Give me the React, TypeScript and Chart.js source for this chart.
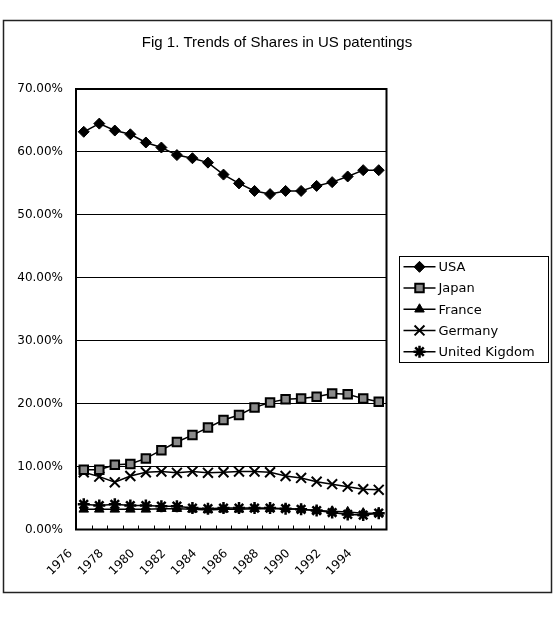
import React, { useEffect, useRef } from 'react';
import { Chart, registerables } from 'chart.js';
import { drawPoint } from 'chart.js/helpers';

Chart.register(...registerables);

const titleText = 'Fig 1. Trends of Shares in US patentings';
const years = ['1976', '1977', '1978', '1979', '1980', '1981', '1982', '1983', '1984', '1985',
  '1986', '1987', '1988', '1989', '1990', '1991', '1992', '1993', '1994', '1995'];
const usa = [63.2, 64.5, 63.4, 62.8, 61.5, 60.7, 59.5, 59.0, 58.3, 56.4,
  55.0, 53.8, 53.3, 53.8, 53.8, 54.6, 55.2, 56.1, 57.1, 57.1];
const japan = [9.5, 9.5, 10.3, 10.4, 11.3, 12.6, 13.9, 15.0, 16.2, 17.4,
  18.2, 19.4, 20.2, 20.7, 20.8, 21.1, 21.6, 21.5, 20.8, 20.3];
const france = [3.2, 3.2, 3.2, 3.2, 3.2, 3.3, 3.3, 3.2, 3.1, 3.2,
  3.2, 3.3, 3.3, 3.3, 3.2, 3.0, 2.9, 2.8, 2.6, 2.6];
const germany = [9.1, 8.4, 7.5, 8.5, 9.1, 9.2, 9.0, 9.2, 9.0, 9.1,
  9.2, 9.2, 9.1, 8.5, 8.2, 7.6, 7.2, 6.8, 6.4, 6.3];
const uk = [4.0, 3.8, 4.0, 3.8, 3.8, 3.7, 3.7, 3.4, 3.3, 3.4,
  3.4, 3.4, 3.4, 3.3, 3.2, 3.0, 2.7, 2.4, 2.3, 2.6];
const seriesNames = ['USA', 'Japan', 'France', 'Germany', 'United Kigdom'];
const yMin = 0;
const yMax = 70;
const yStep = 10;

const FONT = 'DejaVu Sans';
const TITLE_FONT = 'Liberation Sans';

const frameBorder = {
  id: 'frameBorder',
  beforeDraw(chart: any) {
    const ctx = chart.ctx;
    ctx.save();
    ctx.fillStyle = '#fff';
    ctx.fillRect(0, 0, chart.width, chart.height);
    ctx.strokeStyle = '#222';
    ctx.lineWidth = 1.5;
    ctx.strokeRect(3.5, 20.5, 548, 572);
    ctx.restore();
  },
};

const plotBox = {
  id: 'plotBox',
  beforeDatasetsDraw(chart: any) {
    const { ctx, chartArea } = chart;
    const xs = chart.scales.x;
    ctx.save();
    ctx.strokeStyle = '#000';
    ctx.lineWidth = 1;
    const n = years.length;
    for (let i = 1; i < n; i++) {
      const x = Math.round((xs.getPixelForValue(i - 1) + xs.getPixelForValue(i)) / 2) + 0.5;
      ctx.beginPath();
      ctx.moveTo(x, chartArea.bottom);
      ctx.lineTo(x, chartArea.bottom - 4);
      ctx.stroke();
    }
    ctx.lineWidth = 2;
    ctx.strokeRect(chartArea.left, chartArea.top, chartArea.right - chartArea.left, chartArea.bottom - chartArea.top);
    ctx.restore();
  },
};

const boxLegend = {
  id: 'boxLegend',
  afterDraw(chart: any) {
    const { ctx, chartArea } = chart;
    const rowH = 21.2;
    const n = chart.data.datasets.length;
    const boxW = 149;
    const boxH = rowH * n;
    const left = chartArea.right + 12;
    const cy = (chartArea.top + chartArea.bottom) / 2;
    const top = cy - boxH / 2;
    ctx.save();
    ctx.strokeStyle = '#000';
    ctx.lineWidth = 1;
    ctx.strokeRect(Math.round(left) + 0.5, Math.round(top) + 0.5, boxW, Math.round(boxH));
    ctx.font = `13px "${FONT}"`;
    ctx.textBaseline = 'middle';
    ctx.textAlign = 'left';
    chart.data.datasets.forEach((ds: any, i: number) => {
      const y = top + rowH * (i + 0.5);
      ctx.strokeStyle = '#000';
      ctx.lineWidth = 1.5;
      ctx.beginPath();
      ctx.moveTo(left + 5, y);
      ctx.lineTo(left + 37, y);
      ctx.stroke();
      ctx.fillStyle = ds.pointBackgroundColor;
      ctx.strokeStyle = ds.pointBorderColor;
      ctx.lineWidth = ds.pointBorderWidth;
      drawPoint(ctx, { pointStyle: ds.pointStyle, rotation: 0, radius: ds.pointRadius, borderWidth: ds.pointBorderWidth }, left + 21, y);
      ctx.fillStyle = '#000';
      ctx.fillText(ds.label, left + 40, y + 1);
    });
    ctx.restore();
  },
};

export default function App() {
  const ref = useRef<HTMLCanvasElement>(null);
  useEffect(() => {
    if (!ref.current) return;
    const mk = (label: string, data: number[], pointStyle: string, radius: number, bg: string, bw: number) => ({
      label,
      data,
      borderColor: '#000',
      borderWidth: 1.5,
      pointStyle,
      pointRadius: radius,
      pointHoverRadius: radius,
      pointBackgroundColor: bg,
      pointBorderColor: '#000',
      pointBorderWidth: bw,
      tension: 0,
    });
    const chart = new Chart(ref.current, {
      type: 'line',
      data: {
        labels: years,
        datasets: [
          mk(seriesNames[0], usa, 'rectRot', 5.5, '#000', 1),
          mk(seriesNames[1], japan, 'rect', 6, '#8a8a8a', 2),
          mk(seriesNames[2], france, 'triangle', 5.5, '#000', 1),
          mk(seriesNames[3], germany, 'crossRot', 7, '#000', 2),
          mk(seriesNames[4], uk, 'star', 6, '#000', 2.5),
        ],
      },
      options: {
        responsive: false,
        animation: false,
        events: [],
        layout: { padding: { left: 10, right: 12, top: 20, bottom: 0 } },
        plugins: {
          legend: { display: false },
          tooltip: { enabled: false },
          title: {
            display: true,
            text: titleText,
            color: '#000',
            font: { family: TITLE_FONT, size: 15, weight: 'normal', lineHeight: 1.2 },
            padding: { top: 14, bottom: 37 },
          },
        },
        scales: {
          x: {
            type: 'category',
            offset: true,
            grid: { display: false },
            border: { display: false },
            ticks: {
              autoSkip: false,
              maxRotation: 45,
              minRotation: 45,
              labelOffset: -13,
              padding: 9,
              color: '#000',
              font: { family: FONT, size: 12 },
              callback: (_v: any, i: number) => (i % 2 === 0 ? years[i] : ''),
            },
            afterFit: (s: any) => { s.height = 89.5; },
          },
          y: {
            min: yMin,
            max: yMax,
            grid: { color: '#000', lineWidth: 1, drawTicks: false },
            border: { display: false },
            ticks: {
              stepSize: yStep,
              padding: 13,
              color: '#000',
              font: { family: FONT, size: 12 },
              callback: (v: any) => Number(v).toFixed(2) + '%',
            },
            afterFit: (s: any) => { s.width = 66; },
          },
          y2: {
            position: 'right',
            display: true,
            grid: { display: false },
            border: { display: false },
            ticks: { display: false },
            afterFit: (s: any) => { s.width = 157.5; },
          },
        },
      },
      plugins: [frameBorder, plotBox, boxLegend],
    } as any);
    return () => chart.destroy();
  }, []);
  return (
    <div style={{ position: 'absolute', left: 0, top: 0, width: 556, height: 619 }}>
      <canvas ref={ref} width={556} height={619} style={{ display: 'block' }} />
    </div>
  );
}
